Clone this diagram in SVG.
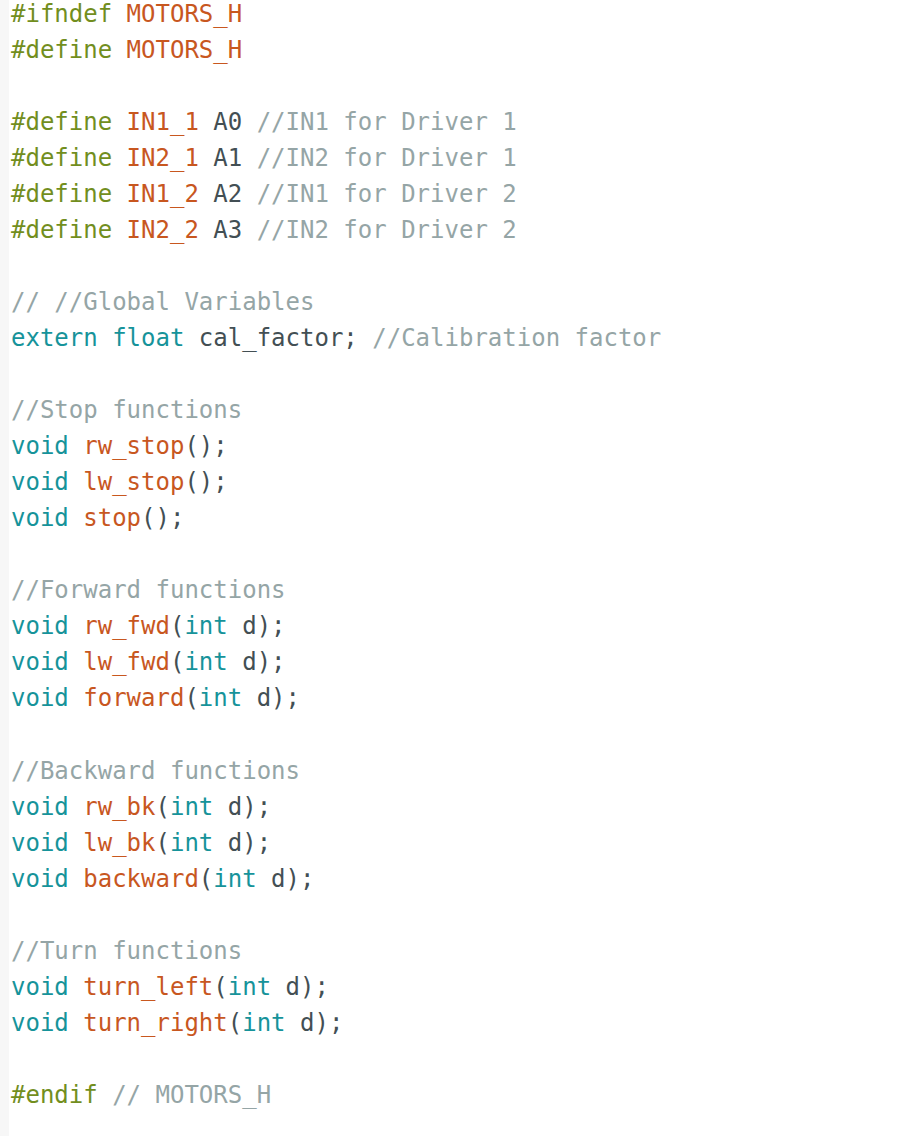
<svg xmlns="http://www.w3.org/2000/svg" width="906" height="1136" viewBox="0 0 906 1136">
<style>
text{font-family:"DejaVu Sans Mono","Liberation Mono",monospace;font-size:24px;fill:#434f54;white-space:pre}
.p{fill:#728e1e}
.f{fill:#c8571f}
.k{fill:#16939a}
.c{fill:#95a5a6}
</style>
<rect width="906" height="1136" fill="#ffffff"/>
<rect x="0" y="0" width="9" height="1136" fill="#f7f7f7"/>
<g id="code" xml:space="preserve">
<text x="11" y="22"><tspan class="p">#ifndef</tspan> <tspan class="f">MOTORS_H</tspan></text>
<text x="11" y="57.6"><tspan class="p">#define</tspan> <tspan class="f">MOTORS_H</tspan></text>
<text x="11" y="129.6"><tspan class="p">#define</tspan> <tspan class="f">IN1_1</tspan> A0 <tspan class="c">//IN1 for Driver 1</tspan></text>
<text x="11" y="165.7"><tspan class="p">#define</tspan> <tspan class="f">IN2_1</tspan> A1 <tspan class="c">//IN2 for Driver 1</tspan></text>
<text x="11" y="201.7"><tspan class="p">#define</tspan> <tspan class="f">IN1_2</tspan> A2 <tspan class="c">//IN1 for Driver 2</tspan></text>
<text x="11" y="237.8"><tspan class="p">#define</tspan> <tspan class="f">IN2_2</tspan> A3 <tspan class="c">//IN2 for Driver 2</tspan></text>
<text x="11" y="309.9"><tspan class="c">// //Global Variables</tspan></text>
<text x="11" y="345.9"><tspan class="k">extern</tspan> <tspan class="k">float</tspan> cal_factor; <tspan class="c">//Calibration factor</tspan></text>
<text x="11" y="418.0"><tspan class="c">//Stop functions</tspan></text>
<text x="11" y="454.1"><tspan class="k">void</tspan> <tspan class="f">rw_stop</tspan>();</text>
<text x="11" y="490.1"><tspan class="k">void</tspan> <tspan class="f">lw_stop</tspan>();</text>
<text x="11" y="526.2"><tspan class="k">void</tspan> <tspan class="f">stop</tspan>();</text>
<text x="11" y="598.3"><tspan class="c">//Forward functions</tspan></text>
<text x="11" y="634.3"><tspan class="k">void</tspan> <tspan class="f">rw_fwd</tspan>(<tspan class="k">int</tspan> d);</text>
<text x="11" y="670.4"><tspan class="k">void</tspan> <tspan class="f">lw_fwd</tspan>(<tspan class="k">int</tspan> d);</text>
<text x="11" y="706.4"><tspan class="k">void</tspan> <tspan class="f">forward</tspan>(<tspan class="k">int</tspan> d);</text>
<text x="11" y="778.5"><tspan class="c">//Backward functions</tspan></text>
<text x="11" y="814.6"><tspan class="k">void</tspan> <tspan class="f">rw_bk</tspan>(<tspan class="k">int</tspan> d);</text>
<text x="11" y="850.6"><tspan class="k">void</tspan> <tspan class="f">lw_bk</tspan>(<tspan class="k">int</tspan> d);</text>
<text x="11" y="886.7"><tspan class="k">void</tspan> <tspan class="f">backward</tspan>(<tspan class="k">int</tspan> d);</text>
<text x="11" y="958.8"><tspan class="c">//Turn functions</tspan></text>
<text x="11" y="994.8"><tspan class="k">void</tspan> <tspan class="f">turn_left</tspan>(<tspan class="k">int</tspan> d);</text>
<text x="11" y="1030.9"><tspan class="k">void</tspan> <tspan class="f">turn_right</tspan>(<tspan class="k">int</tspan> d);</text>
<text x="11" y="1103"><tspan class="p">#endif</tspan> <tspan class="c">// MOTORS_H</tspan></text>
</g>
</svg>
